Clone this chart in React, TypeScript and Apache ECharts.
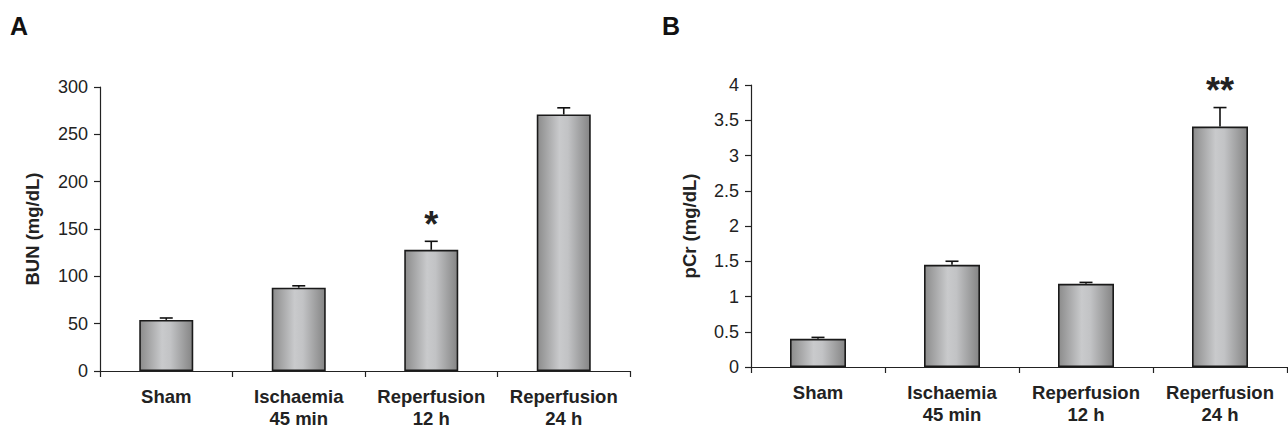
import React, { useEffect, useRef } from "react";
import * as echarts from "echarts";

const categories = ["Sham", "Ischaemia\n45 min", "Reperfusion\n12 h", "Reperfusion\n24 h"];
const bunValues = [54, 88, 128, 271];
const bunErrors = [2, 2, 9, 7];
const bunMarks = ["", "", "*", ""];
const pcrValues = [0.4, 1.45, 1.18, 3.41];
const pcrErrors = [0.02, 0.05, 0.02, 0.27];
const pcrMarks = ["", "", "", "**"];
const bunTicks = { min: 0, max: 300, interval: 50 };
const pcrTicks = { min: 0, max: 4, interval: 0.5 };

const FONT = "Liberation Sans, Arial, sans-serif";
const TEXT = "#222";

function barGradient() {
  return new echarts.graphic.LinearGradient(0, 0, 1, 0, [
    { offset: 0, color: "#8c8c8c" },
    { offset: 0.42, color: "#c9cacc" },
    { offset: 0.58, color: "#c2c3c5" },
    { offset: 1, color: "#858585" },
  ]);
}

function errorSeries(values: number[], errors: number[], marks: string[], idx: number) {
  return {
    type: "custom",
    xAxisIndex: idx,
    yAxisIndex: idx,
    z: 5,
    data: values.map((v, i) => [i, v, errors[i]]),
    renderItem: (params: any, api: any) => {
      const i = api.value(0);
      const v = api.value(1);
      const e = api.value(2);
      const mark = marks[params.dataIndex];
      const base = api.coord([i, v]);
      const top = api.coord([i, v + e]);
      const hw = 6.5;
      const children: any[] = [
        {
          type: "line",
          shape: { x1: base[0], y1: base[1], x2: top[0], y2: top[1] },
          style: { stroke: "#111", lineWidth: 1.6 },
        },
        {
          type: "line",
          shape: { x1: top[0] - hw, y1: top[1], x2: top[0] + hw, y2: top[1] },
          style: { stroke: "#111", lineWidth: 1.6 },
        },
      ];
      if (mark) {
        children.push({
          type: "text",
          x: top[0],
          y: top[1] - 17,
          style: {
            text: mark,
            fontSize: 36,
            fontWeight: "bold",
            fontFamily: FONT,
            fill: TEXT,
            align: "center",
            verticalAlign: "middle",
          },
        });
      }
      return { type: "group", children };
    },
  };
}

function barSeries(values: number[], idx: number, width: number) {
  return {
    type: "bar",
    xAxisIndex: idx,
    yAxisIndex: idx,
    barWidth: width,
    data: values,
    itemStyle: { color: barGradient(), borderColor: "#1a1a1a", borderWidth: 1.6 },
  };
}

function xAxis(idx: number) {
  return {
    type: "category",
    gridIndex: idx,
    data: categories,
    axisLine: { lineStyle: { color: TEXT, width: 1.2 } },
    axisTick: { show: true, length: 6, lineStyle: { color: TEXT, width: 1.2 } },
    axisLabel: {
      color: TEXT,
      fontSize: 18.5,
      fontWeight: "bold",
      fontFamily: FONT,
      lineHeight: 22.5,
      margin: 14,
      interval: 0,
    },
  };
}

function yAxis(idx: number, name: string, t: { min: number; max: number; interval: number }, gap: number) {
  return {
    type: "value",
    gridIndex: idx,
    min: t.min,
    max: t.max,
    interval: t.interval,
    name,
    nameLocation: "middle",
    nameGap: gap,
    nameTextStyle: { color: TEXT, fontSize: 18.5, fontWeight: "bold", fontFamily: FONT },
    axisLine: { show: true, lineStyle: { color: TEXT, width: 1.2 } },
    axisTick: { show: true, length: 6, lineStyle: { color: TEXT, width: 1.2 } },
    splitLine: { show: false },
    axisLabel: { color: TEXT, fontSize: 18, fontFamily: FONT, margin: 12 },
  };
}

export default function App() {
  const ref = useRef<HTMLDivElement>(null);
  useEffect(() => {
    if (!ref.current) return;
    const chart = echarts.init(ref.current, undefined, { renderer: "svg" });
    chart.setOption({
      animation: false,
      backgroundColor: "#fff",
      grid: [
        { left: 100, top: 87, width: 530, height: 285 },
        { left: 751, top: 85, width: 536, height: 282 },
      ],
      xAxis: [xAxis(0), xAxis(1)],
      yAxis: [yAxis(0, "BUN (mg/dL)", bunTicks, 58), yAxis(1, "pCr (mg/dL)", pcrTicks, 52)],
      graphic: [
        {
          type: "text",
          left: 10,
          top: 13,
          style: { text: "A", fontSize: 25, fontWeight: "bold", fontFamily: FONT, fill: "#111" },
        },
        {
          type: "text",
          left: 662,
          top: 13,
          style: { text: "B", fontSize: 25, fontWeight: "bold", fontFamily: FONT, fill: "#111" },
        },
      ],
      series: [
        barSeries(bunValues, 0, 54),
        errorSeries(bunValues, bunErrors, bunMarks, 0),
        barSeries(pcrValues, 1, 56),
        errorSeries(pcrValues, pcrErrors, pcrMarks, 1),
      ],
    });
    return () => chart.dispose();
  }, []);
  return (
    <div
      ref={ref}
      style={{ position: "fixed", left: 0, top: 0, width: 1288, height: 430, background: "#fff" }}
    />
  );
}
